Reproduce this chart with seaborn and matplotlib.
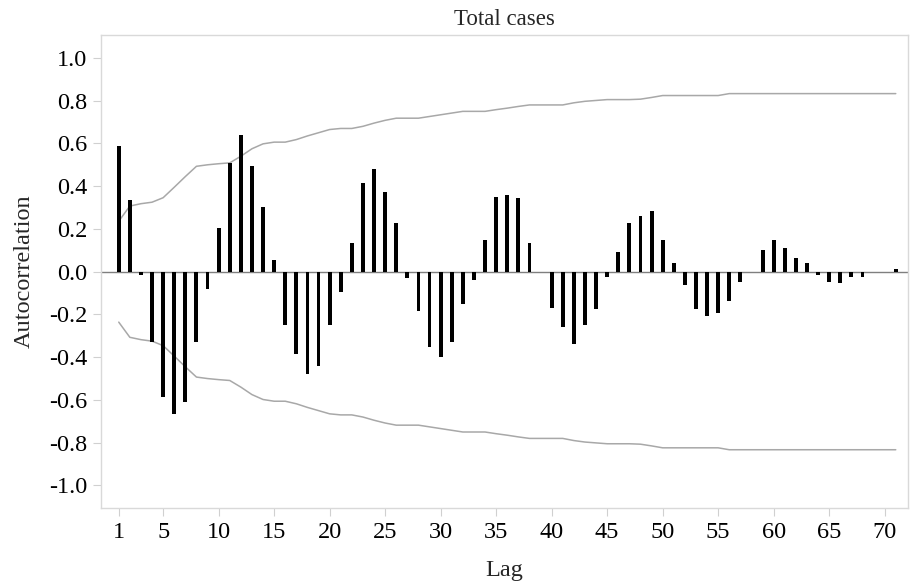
"""
Autocorrelation (ACF) bar chart for total cases, with confidence bands.
"""

import numpy as np
import pandas as pd
import matplotlib
matplotlib.use("Agg")
import matplotlib.pyplot as plt
import seaborn as sns

# Lags 1..71
lags = list(range(1, 72))

acf = [
    0.59, 0.335, -0.017, -0.327, -0.585, -0.665, -0.61, -0.33, -0.08, 0.205,    # 1-10
    0.51, 0.64, 0.495, 0.302, 0.053, -0.25, -0.385, -0.48, -0.44, -0.25,        # 11-20
    -0.095, 0.134, 0.415, 0.478, 0.375, 0.23, -0.031, -0.186, -0.353, -0.40,    # 21-30
    -0.328, -0.152, -0.041, 0.15, 0.35, 0.358, 0.343, 0.134, 0.0, -0.168,       # 31-40
    -0.257, -0.337, -0.25, -0.176, -0.023, 0.093, 0.229, 0.262, 0.286, 0.15,    # 41-50
    0.039, -0.064, -0.176, -0.207, -0.193, -0.136, -0.048, 0.0, 0.101, 0.15,    # 51-60
    0.11, 0.062, 0.039, -0.016, -0.048, -0.055, -0.025, -0.025, 0.0, 0.0,       # 61-70
    0.014,                                                                       # 71
]

# upper confidence limit per lag (lower limit is the mirror)
conf_upper = [
    0.236, 0.307, 0.318, 0.325, 0.346, 0.395, 0.445, 0.493, 0.50, 0.505,
    0.509, 0.540, 0.575, 0.598, 0.606, 0.606, 0.618, 0.635, 0.650, 0.665,
    0.670, 0.670, 0.680, 0.695, 0.708, 0.718, 0.718, 0.718, 0.726, 0.734,
    0.742, 0.750, 0.750, 0.750, 0.758, 0.765, 0.773, 0.780, 0.780, 0.780,
    0.780, 0.790, 0.797, 0.801, 0.805, 0.805, 0.805, 0.807, 0.815, 0.824,
    0.824, 0.824, 0.824, 0.824, 0.824, 0.833, 0.833, 0.833, 0.833, 0.833,
    0.833, 0.833, 0.833, 0.833, 0.833, 0.833, 0.833, 0.833, 0.833, 0.833,
    0.833,
]

xticks = [1, 5, 10, 15, 20, 25, 30, 35, 40, 45, 50, 55, 60, 65, 70]
yticks = [-1.0, -0.8, -0.6, -0.4, -0.2, 0.0, 0.2, 0.4, 0.6, 0.8, 1.0]

df = pd.DataFrame({"lag": lags, "acf": acf,
                   "upper": conf_upper,
                   "lower": [-v for v in conf_upper]})

sns.set_style("white")
plt.rcParams["font.family"] = ["Liberation Serif", "DejaVu Serif"]

fig = plt.figure(figsize=(9.13, 5.84), dpi=100)
ax = fig.add_axes([0.1106, 0.1296, 0.8839, 0.8104])

# zero reference line
ax.axhline(0, color="#7f7f7f", linewidth=1.0, zorder=1)

sns.barplot(data=df, x="lag", y="acf", native_scale=True, width=0.35,
            color="black", saturation=1, edgecolor="none", ax=ax, zorder=3)

sns.lineplot(data=df, x="lag", y="upper", color="#a8a8a8", linewidth=1.1, ax=ax, zorder=2)
sns.lineplot(data=df, x="lag", y="lower", color="#a8a8a8", linewidth=1.1, ax=ax, zorder=2)

ax.set_xlim(-0.6, 72.1)
ax.set_ylim(-1.107, 1.107)
ax.set_xticks(xticks)
ax.set_yticks(yticks)
ax.set_yticklabels([f"{v:.1f}" for v in yticks])

ax.tick_params(axis="both", which="major", labelsize=17.5, length=6, width=0.8,
               color="#d0d0d0", direction="out", bottom=True, left=True,
               labelcolor="black", pad=4)

for side in ["top", "right", "bottom", "left"]:
    ax.spines[side].set_visible(True)
    ax.spines[side].set_color("#d9d9d9")
    ax.spines[side].set_linewidth(1.0)

ax.set_xlabel("Lag", fontsize=17.5, labelpad=12)
ax.set_ylabel("Autocorrelation", fontsize=17.5, labelpad=10)
ax.set_title("Total cases", fontsize=16.5, pad=7)

fig.savefig("out.png", dpi=100, facecolor="white")
plt.close(fig)
